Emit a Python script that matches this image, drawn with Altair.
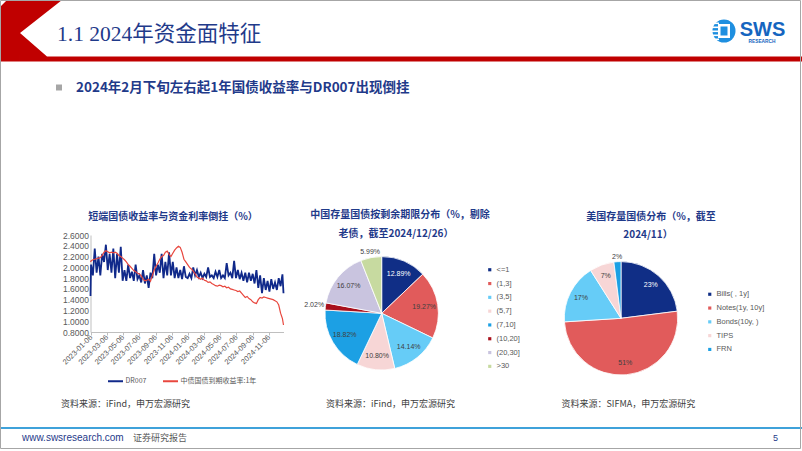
import altair as alt
import pandas as pd

# ---------------- data ----------------
line_dates = (["2023-01-04"]
              + [d.strftime("%Y-%m-%d") for d in pd.date_range("2023-01-06", "2024-12-27", freq="7D")]
              + ["2024-12-31"])

dr007 = [1.47,
         # 2023
         2.05, 1.85, 2.35, 1.90,
         2.20, 1.85, 2.25, 2.10,
         2.42, 1.95, 2.25, 1.90, 2.35,
         1.80, 2.25, 1.90, 2.38,
         1.75, 1.95, 1.75, 2.05,
         1.80, 1.92, 1.75, 2.05, 1.78,
         1.85, 1.72, 1.95, 1.70,
         1.85, 1.62, 1.90, 1.80,
         2.25, 1.85, 2.05, 1.90, 2.25,
         1.80, 2.10, 1.85, 2.28,
         1.85, 2.10, 1.80, 2.00,
         1.80, 1.95, 1.78, 2.02, 1.82,
         # 2024
         1.80, 1.88, 1.80, 2.00,
         1.85, 1.95, 1.82, 1.90,
         1.80, 1.88, 1.82, 2.00, 1.82,
         1.85, 1.80, 1.92, 1.82,
         1.95, 1.80, 1.85, 1.80, 2.08,
         1.85, 1.90, 1.80, 2.12,
         1.80, 1.95, 1.78, 1.90,
         1.75, 1.90, 1.72, 1.90, 1.75,
         1.88, 1.70, 1.95, 1.62,
         1.85, 1.52, 1.80, 1.58,
         1.75, 1.55, 1.78, 1.60, 1.72,
         1.58, 1.80, 1.65, 1.87,
         1.52]

cgb1y = [2.10,
         # 2023
         2.12, 2.14, 2.15, 2.16,
         2.17, 2.18, 2.22, 2.28,
         2.31, 2.29, 2.27, 2.28, 2.27,
         2.28, 2.26, 2.22, 2.20,
         2.17, 2.14, 2.10, 2.05,
         2.02, 1.98, 1.94, 1.92, 1.89,
         1.88, 1.84, 1.78, 1.75,
         1.76, 1.78, 1.74, 1.85,
         1.95, 2.02, 2.08, 2.15, 2.20,
         2.22, 2.28, 2.30, 2.24,
         2.20, 2.26, 2.32, 2.36,
         2.39, 2.37, 2.28, 2.15, 2.10,
         # 2024
         2.05, 2.00, 1.97, 1.93,
         1.88, 1.82, 1.80, 1.78,
         1.80, 1.76, 1.75, 1.72, 1.73,
         1.70, 1.68, 1.66, 1.65,
         1.67, 1.66, 1.64, 1.65, 1.62,
         1.63, 1.60, 1.59, 1.58,
         1.57, 1.55, 1.56, 1.52,
         1.48, 1.44, 1.46, 1.42, 1.40,
         1.36, 1.34, 1.33, 1.40,
         1.44, 1.43, 1.45, 1.44,
         1.43, 1.42, 1.41, 1.40, 1.38,
         1.36, 1.30, 1.15, 1.05,
         0.93]

series_names = ["DR007", "中债国债到期收益率:1年"]
y_ticks = [0.8, 1.0, 1.2, 1.4, 1.6, 1.8, 2.0, 2.2, 2.4, 2.6]
x_tick_months = [(2023, 1), (2023, 3), (2023, 5), (2023, 7), (2023, 9), (2023, 11),
                 (2024, 1), (2024, 3), (2024, 5), (2024, 7), (2024, 9), (2024, 11)]

china_cats = ["<=1", "(1,3]", "(3,5]", "(5,7]", "(7,10]", "(10,20]", "(20,30]", ">30"]
china_vals = [12.89, 19.27, 14.14, 10.80, 18.82, 2.02, 16.07, 5.99]
china_colors = ["#102E86", "#E15B5B", "#66CCF7", "#F7D6D6", "#1CA0E4", "#A8101C", "#C9C4DF", "#C7DAA0"]

us_cats = ["Bills( , 1y]", "Notes(1y, 10y]", "Bonds(10y, )", "TIPS", "FRN"]
us_vals = [23, 51, 17, 7, 2]
us_colors = ["#102E86", "#E15B5B", "#66CCF7", "#F7D6D6", "#1CA0E4"]

# ---------------- styles ----------------
SANS = "Liberation Sans, Noto Sans CJK SC, sans-serif"
CJK = "Noto Sans CJK SC, Liberation Sans, sans-serif"
SERIF = "Liberation Serif, Noto Sans CJK SC, serif"
NAVY = "#1F3A8A"
GRAY = "#595959"
ONE = alt.Data(values=[{}])


def txt(s, x, y, size, color, weight="normal", font=CJK, align="left"):
    return alt.Chart(ONE).mark_text(
        text=s, fontSize=size, color=color, fontWeight=weight, font=font,
        align=align, baseline="middle"
    ).encode(x=alt.value(x), y=alt.value(y))


def box(x, x2, y, y2, color):
    return alt.Chart(ONE).mark_rect(color=color).encode(
        x=alt.value(x), x2=alt.value(x2), y=alt.value(y), y2=alt.value(y2))


layers = []

# ---------------- header ----------------
hdr_a = pd.DataFrame({"x": [0, 7, 20, 20.01, 62], "y": [7, 0, 0, 0, 0],
                      "y2": [61.5, 61.5, 61.5, 33, 0]})
hdr_b = pd.DataFrame({"x": [20, 47, 802], "y": [33, 56.5, 56.5], "y2": [61.5, 61.5, 61.5]})
for d in (hdr_a, hdr_b):
    layers.append(alt.Chart(d).mark_area(color="#C00000").encode(
        x=alt.X("x:Q", scale=None, axis=None),
        y=alt.Y("y:Q", scale=None, axis=None),
        y2="y2:Q"))

layers.append(txt("1.1 2024年资金面特征", 57, 35, 21.5, NAVY, font=SERIF))

# logo
layers.append(alt.Chart(ONE).mark_circle(size=530, color="#1E8FE0", opacity=1).encode(
    x=alt.value(724), y=alt.value(31)))
for yy in [22.5, 26.5, 30.5, 34.5, 38.5]:
    layers.append(box(711, 719, yy, yy + 1.6, "white"))
layers.append(box(718, 730, 24, 38, "white"))
layers.append(box(720.5, 727.5, 26.5, 35.5, "#1E8FE0"))
layers.append(txt("SWS", 762.5, 30, 20, "#1565C0", weight="bold", font=SANS, align="center"))
layers.append(txt("RESEARCH", 762, 41.5, 4.8, "#1565C0", weight="bold", font=SANS, align="center"))

# subtitle
layers.append(box(56, 62, 84.5, 90.5, "#A6A6A6"))
layers.append(txt("2024年2月下旬左右起1年国债收益率与DR007出现倒挂", 76, 87.5, 13.5, NAVY, weight="bold"))

# ---------------- panel 1: line chart ----------------
n = len(line_dates)
line_df = pd.DataFrame({
    "date": line_dates * 2,
    "value": dr007 + cgb1y,
    "series": [series_names[0]] * n + [series_names[1]] * n,
})
xscale = alt.Scale(domain=[alt.DateTime(year=2023, month=1, date=4),
                           alt.DateTime(year=2024, month=12, date=31)],
                   range=[90.5, 283.5])
yscale = alt.Scale(domain=[0.8, 2.6], range=[332, 235], zero=False, nice=False)
xaxis = alt.Axis(values=[alt.DateTime(year=y, month=m, date=6) for y, m in x_tick_months],
                 format="%Y-%m-%d", labelAngle=315, labelAlign="right", labelBaseline="middle",
                 labelFontSize=7.5, labelColor=GRAY, labelFont=SANS, labelPadding=1,
                 labelOverlap=False, domainColor="#BFBFBF", tickColor="#BFBFBF", tickSize=3,
                 grid=False, title=None, offset=-119)
yaxis = alt.Axis(values=y_ticks, format=".4f", labelFontSize=8.5, labelColor=GRAY,
                 labelFont=SANS, labelPadding=2, ticks=False, domainColor="#BFBFBF",
                 grid=False, title=None, offset=-90.5)
color_line = alt.Color("series:N",
                       scale=alt.Scale(domain=series_names, range=["#10298A", "#E8473E"]),
                       legend=alt.Legend(orient="none", legendX=107, legendY=372.5,
                                         direction="horizontal", title=None,
                                         symbolType="stroke", symbolSize=225,
                                         symbolStrokeWidth=2, labelFontSize=7,
                                         labelColor=GRAY, labelFont=CJK, labelOffset=1.5,
                                         columnPadding=12))
base_line = alt.Chart(line_df).encode(
    x=alt.X("date:T", scale=xscale, axis=xaxis),
    y=alt.Y("value:Q", scale=yscale, axis=yaxis),
    color=color_line)
blue = base_line.transform_filter(alt.datum.series == series_names[0]).mark_line(strokeWidth=1.8)
red = base_line.transform_filter(alt.datum.series == series_names[1]).mark_line(strokeWidth=1.2)
layers.append(alt.layer(blue, red))

layers.append(txt("短端国债收益率与资金利率倒挂（%）", 173, 217, 10, NAVY, weight="bold", align="center"))


# ---------------- pies ----------------
def pie(cats, vals, colors, cx, cy, R, fmt, tiers, legend_x, legend_y):
    df = pd.DataFrame({"cat": cats, "v": vals, "i": list(range(len(cats)))})
    out = [alt.Chart(df).mark_arc(outerRadius=R, stroke="white", strokeWidth=0.8).encode(
        theta=alt.Theta("v:Q", stack=True),
        color=alt.Color("cat:N", scale=alt.Scale(domain=cats, range=colors),
                        legend=alt.Legend(orient="none", legendX=legend_x, legendY=legend_y,
                                          title=None, symbolType="square", symbolSize=10,
                                          symbolStrokeWidth=0, labelFontSize=7.5,
                                          labelColor=GRAY, labelFont=SANS, labelOffset=3,
                                          rowPadding=4.8)),
        order=alt.Order("i:Q"),
        x=alt.value(cx), y=alt.value(cy))]
    # one text layer per label ring; every layer stacks all slices so angles match
    for radius, cond in tiers:
        out.append(alt.Chart(df).transform_calculate(
            lbl=f"({cond}) ? format(datum.v, '{fmt}') + '%' : ''",
            tc="datum.i == 0 ? 'white' : '#404040'",
        ).mark_text(radius=radius, fontSize=7, font=SANS).encode(
            theta=alt.Theta("v:Q", stack=True),
            text="lbl:N",
            order=alt.Order("i:Q"),
            color=alt.Color("tc:N", scale=None),
            x=alt.value(cx), y=alt.value(cy)))
    return out


layers += pie(china_cats, china_vals, china_colors, 381.7, 313.3, 56.7, ".2f",
              [(43, "datum.v >= 7"), (62, "datum.v >= 3 && datum.v < 7"), (68, "datum.v < 3")],
              486, 266)
layers += pie(us_cats, us_vals, us_colors, 621, 318.3, 56.7, ".0f",
              [(45, "datum.v >= 3"), (61, "datum.v < 3")],
              706, 290.5)

layers.append(txt("中国存量国债按剩余期限分布（%，剔除", 400, 215, 10, NAVY, weight="bold", align="center"))
layers.append(txt("老债，截至2024/12/26）", 396, 233.5, 10, NAVY, weight="bold", align="center"))
layers.append(txt("美国存量国债分布（%，截至", 651, 216.5, 10, NAVY, weight="bold", align="center"))
layers.append(txt("2024/11）", 648, 234.5, 10, NAVY, weight="bold", align="center"))

# ---------------- sources & footer ----------------
layers.append(txt("资料来源：iFind，申万宏源研究", 61, 404, 9, "#404040"))
layers.append(txt("资料来源：iFind，申万宏源研究", 326, 404, 9, "#404040"))
layers.append(txt("资料来源：SIFMA，申万宏源研究", 561.5, 404, 9, "#404040"))

layers.append(box(0, 802, 427, 429, "#3FA2DA"))
layers.append(txt("www.swsresearch.com", 22, 437.5, 10, NAVY, font=SANS))
layers.append(txt("证券研究报告", 133, 437.5, 9, GRAY))
layers.append(txt("5", 773, 437.5, 9, NAVY, font=SANS))

# slide frame
layers.append(alt.Chart(ONE).mark_rect(fillOpacity=0, stroke="#A6A6A6", strokeWidth=1).encode(
    x=alt.value(0.5), x2=alt.value(800.5), y=alt.value(0.5), y2=alt.value(448.5)))

chart = alt.layer(*layers).resolve_scale(
    x="independent", y="independent", color="independent", theta="independent"
).properties(
    width=802, height=451, padding=0,
    autosize=alt.AutoSizeParams(type="none"),
    background="white"
).configure_view(strokeWidth=0)

chart.save("out.html", embed_options={"renderer": "svg", "actions": False})
